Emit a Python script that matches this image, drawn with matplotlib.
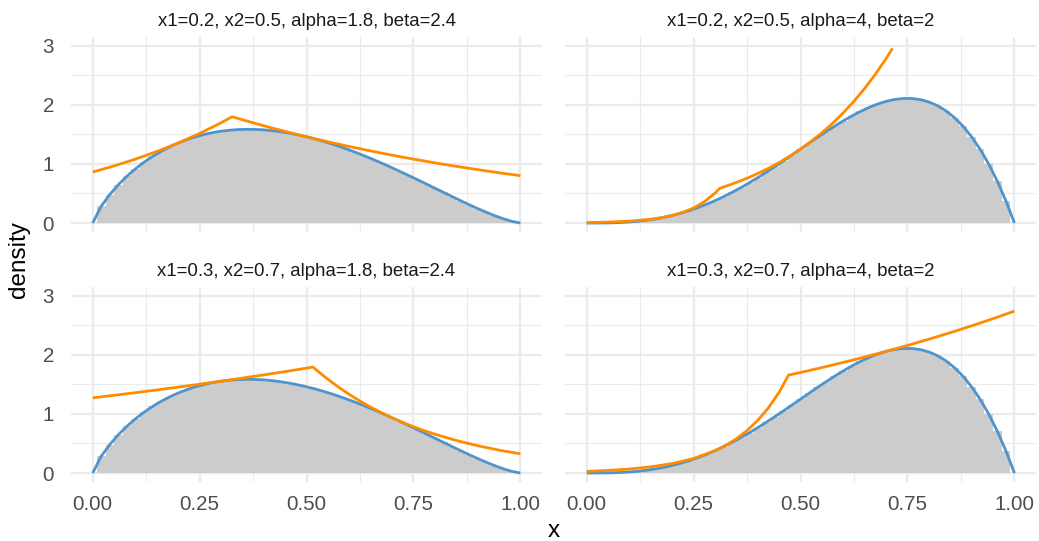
import matplotlib
matplotlib.use('Agg')
import matplotlib.pyplot as plt
from matplotlib.ticker import MultipleLocator

plt.rcParams['font.family'] = ['Liberation Sans', 'DejaVu Sans']

# grid of bin centres / curve points (step 0.02)
xs = [i / 50 for i in range(51)]

# beta(1.8, 2.4) density
dens_a = [0.0, 0.285, 0.482, 0.648, 0.791, 0.917, 1.028, 1.126, 1.213, 1.288,
          1.354, 1.410, 1.458, 1.497, 1.529, 1.553, 1.570, 1.581, 1.585, 1.583,
          1.576, 1.562, 1.544, 1.520, 1.492, 1.459, 1.422, 1.381, 1.336, 1.287,
          1.235, 1.180, 1.122, 1.062, 0.999, 0.934, 0.867, 0.799, 0.730, 0.660,
          0.589, 0.519, 0.448, 0.379, 0.311, 0.245, 0.183, 0.124, 0.072, 0.028,
          0.0]

# beta(4, 2) density
dens_b = [0.0, 0.0002, 0.0012, 0.0041, 0.0094, 0.018, 0.030, 0.047, 0.069, 0.096,
          0.128, 0.166, 0.210, 0.260, 0.316, 0.378, 0.446, 0.519, 0.597, 0.680,
          0.768, 0.859, 0.954, 1.051, 1.150, 1.250, 1.350, 1.449, 1.545, 1.639,
          1.728, 1.811, 1.887, 1.955, 2.012, 2.058, 2.090, 2.107, 2.107, 2.088,
          2.048, 1.985, 1.897, 1.781, 1.636, 1.458, 1.246, 0.997, 0.708, 0.377,
          0.0]

# envelope curves (orange), one per panel
env1_x = [0.0, 0.05, 0.10, 0.15, 0.20, 0.25, 0.30, 0.326, 0.35, 0.40, 0.45, 0.50,
          0.55, 0.60, 0.65, 0.70, 0.75, 0.80, 0.85, 0.90, 0.95, 1.0]
env1_y = [0.863, 0.966, 1.081, 1.210, 1.354, 1.515, 1.695, 1.798, 1.747, 1.645,
          1.549, 1.459, 1.374, 1.294, 1.219, 1.148, 1.081, 1.018, 0.959, 0.903,
          0.850, 0.801]

env2_x = [0.0, 0.05, 0.10, 0.15, 0.175, 0.20, 0.225, 0.25, 0.275, 0.30, 0.311,
          0.35, 0.375, 0.40, 0.425, 0.45, 0.475, 0.50, 0.525, 0.55, 0.575, 0.60,
          0.625, 0.65, 0.675, 0.70, 0.715]
env2_y = [0.008, 0.016, 0.032, 0.064, 0.091, 0.128, 0.181, 0.255, 0.359, 0.506,
          0.586, 0.686, 0.758, 0.838, 0.926, 1.023, 1.131, 1.250, 1.382, 1.527,
          1.687, 1.865, 2.061, 2.278, 2.517, 2.782, 2.954]

env3_x = [0.0, 0.05, 0.10, 0.15, 0.20, 0.25, 0.30, 0.35, 0.40, 0.45, 0.50, 0.515,
          0.525, 0.55, 0.575, 0.60, 0.625, 0.65, 0.675, 0.70, 0.725, 0.75, 0.775,
          0.80, 0.85, 0.90, 0.95, 1.0]
env3_y = [1.272, 1.315, 1.359, 1.405, 1.453, 1.502, 1.553, 1.606, 1.660, 1.716,
          1.775, 1.793, 1.731, 1.585, 1.451, 1.329, 1.217, 1.114, 1.020, 0.934,
          0.855, 0.783, 0.717, 0.657, 0.551, 0.462, 0.387, 0.325]

env4_x = [0.0, 0.05, 0.10, 0.15, 0.20, 0.25, 0.30, 0.325, 0.35, 0.375, 0.40, 0.425,
          0.45, 0.472, 0.50, 0.55, 0.60, 0.65, 0.70, 0.75, 0.80, 0.85, 0.90, 0.95, 1.0]
env4_y = [0.029, 0.044, 0.068, 0.105, 0.160, 0.246, 0.378, 0.468, 0.580, 0.719,
          0.891, 1.104, 1.367, 1.657, 1.701, 1.784, 1.871, 1.962, 2.058, 2.158,
          2.264, 2.374, 2.490, 2.611, 2.739]

titles = ['x1=0.2, x2=0.5, alpha=1.8, beta=2.4', 'x1=0.2, x2=0.5, alpha=4, beta=2',
          'x1=0.3, x2=0.7, alpha=1.8, beta=2.4', 'x1=0.3, x2=0.7, alpha=4, beta=2']
x_ticks = [0.0, 0.25, 0.5, 0.75, 1.0]
x_ticklabels = ['0.00', '0.25', '0.50', '0.75', '1.00']
y_ticks = [0, 1, 2, 3]

# histogram bin edges around the centres
edges = [x - 0.01 for x in xs] + [1.01]

W, H = 1039, 541
fig = plt.figure(figsize=(W / 100, H / 100), dpi=100)

panels = [
    (71.3, 36.8, dens_a, env1_x, env1_y, titles[0]),
    (565.3, 36.8, dens_b, env2_x, env2_y, titles[1]),
    (71.3, 286.8, dens_a, env3_x, env3_y, titles[2]),
    (565.3, 286.8, dens_b, env4_x, env4_y, titles[3]),
]
pw, ph = 470.5, 195.1

for i, (px, py, dens, ex, ey, title) in enumerate(panels):
    ax = fig.add_axes([px / W, (H - py - ph) / H, pw / W, ph / H])
    ax.set_xlim(-0.05, 1.05)
    ax.set_ylim(-0.15, 3.15)
    for s in ax.spines.values():
        s.set_visible(False)
    ax.xaxis.set_major_locator(MultipleLocator(0.25))
    ax.xaxis.set_minor_locator(MultipleLocator(0.125))
    ax.yaxis.set_major_locator(MultipleLocator(1))
    ax.yaxis.set_minor_locator(MultipleLocator(0.5))
    ax.grid(which='major', color='#EBEBEB', linewidth=1.6)
    ax.grid(which='minor', color='#EBEBEB', linewidth=0.8)
    ax.set_axisbelow(True)
    ax.tick_params(which='both', length=0, colors='#4D4D4D', labelsize=14.8)
    ax.tick_params(axis='y', pad=12.5)
    ax.tick_params(axis='x', pad=9.5)
    ax.set_xticks(x_ticks)
    ax.set_yticks(y_ticks)
    if i < 2:
        ax.set_xticklabels([])
    else:
        ax.set_xticklabels(x_ticklabels)
    if i % 2 == 1:
        ax.set_yticklabels([])

    ax.stairs(dens, edges, fill=True, color='#CCCCCC', linewidth=0, zorder=2)
    ax.plot(xs, dens, color='#4F94CD', linewidth=2.0, zorder=3,
            solid_capstyle='butt')
    ax.plot(ex, ey, color='#FF8C00', linewidth=2.0, zorder=4,
            solid_capstyle='butt')

    fig.text((px + pw / 2) / W, (H - py + 10.8) / H, title, ha='center',
             va='baseline', fontsize=13.4, color='#1A1A1A')

fig.text(19 / W, (H - 259.4) / H, 'density', rotation=90, ha='center',
         va='center', fontsize=17.5)
fig.text(553.4 / W, (H - 537) / H, 'x', ha='center', va='baseline',
         fontsize=17.5)

fig.savefig('out.png', dpi=100)
